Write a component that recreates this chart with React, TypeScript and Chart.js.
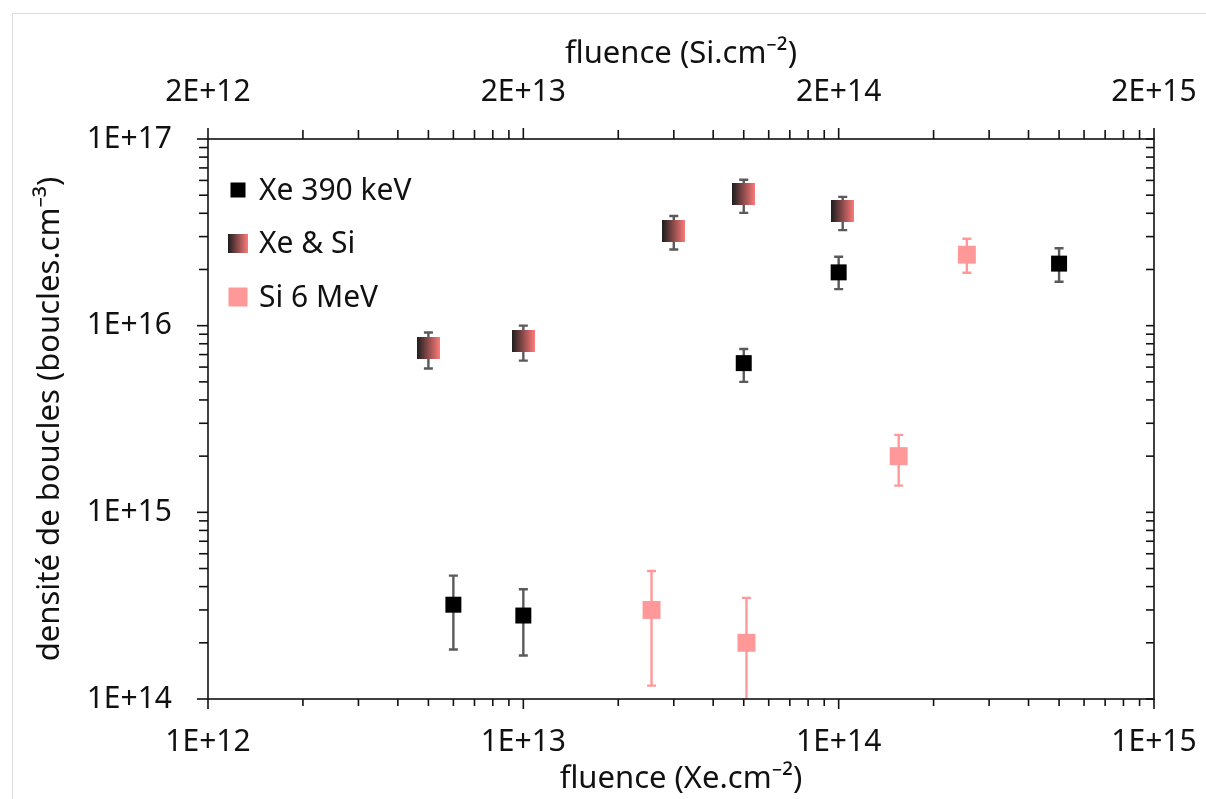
import React, { useEffect, useRef } from "react";
import { Chart, registerables } from "chart.js";

Chart.register(...registerables);

// ---- data (fluence in ions/cm2, density in loops/cm3) ----
const xeFluence = [6e12, 1e13, 5e13, 1e14, 5e14];
const xeDensity = [3.2e14, 2.8e14, 6.3e15, 1.93e16, 2.15e16];
const xeLow = [1.84e14, 1.71e14, 5.0e15, 1.57e16, 1.72e16];
const xeHigh = [4.58e14, 3.87e14, 7.5e15, 2.34e16, 2.6e16];

const mixFluence = [5e12, 1e13, 3e13, 5e13, 1.03e14];
const mixDensity = [7.6e15, 8.3e15, 3.2e16, 5.1e16, 4.1e16];
const mixLow = [5.9e15, 6.5e15, 2.56e16, 4.02e16, 3.25e16];
const mixHigh = [9.2e15, 1.0e16, 3.87e16, 6.05e16, 4.9e16];

// Si 6 MeV plotted against the top axis (Si fluence)
const siFluence = [5.1e13, 1.02e14, 3.1e14, 5.1e14];
const siDensity = [3.0e14, 2.0e14, 2.0e15, 2.4e16];
const siLow = [1.18e14, 7e13, 1.39e15, 1.92e16];
const siHigh = [4.85e14, 3.48e14, 2.6e15, 2.92e16];

const seriesLabels = ["Xe 390 keV", "Xe & Si", "Si 6 MeV"];

const bottomMajor = [1e12, 1e13, 1e14, 1e15];
const bottomLabels = ["1E+12", "1E+13", "1E+14", "1E+15"];
const topMajor = [2e12, 2e13, 2e14, 2e15];
const topLabels = ["2E+12", "2E+13", "2E+14", "2E+15"];
const yMajor = [1e14, 1e15, 1e16, 1e17];
const yLabels = ["1E+14", "1E+15", "1E+16", "1E+17"];
const minorMultipliers = [2, 3, 4, 5, 6, 7, 8, 9];

const xTitle = "fluence (Xe.cm\u207B\u00B2)";
const x2Title = "fluence (Si.cm\u207B\u00B2)";
const yTitle = "densit\u00E9 de boucles (boucles.cm\u207B\u00B3)";

const FONT = "'Noto Sans', 'Open Sans', 'DejaVu Sans', sans-serif";

function buildTicks(majors: number[]) {
  const out: { value: number; major: boolean }[] = [];
  const max = majors[majors.length - 1];
  majors.forEach((m) => {
    out.push({ value: m, major: true });
    if (m < max) {
      minorMultipliers.forEach((k) => {
        const v = Number((m * k).toPrecision(10));
        if (v < max) out.push({ value: v, major: false });
      });
    }
  });
  return out;
}

function labelFor(majors: number[], labels: string[]) {
  return (value: number | string) => {
    const v = Number(value);
    for (let i = 0; i < majors.length; i++) {
      if (Math.abs(v / majors[i] - 1) < 1e-6) return labels[i];
    }
    return "";
  };
}

function zeroPad(s: any) {
  s.paddingLeft = 0;
  s.paddingRight = 0;
  s.paddingTop = 0;
  s.paddingBottom = 0;
}

export default function App() {
  const ref = useRef<HTMLCanvasElement>(null);

  useEffect(() => {
    if (!ref.current) return;

    const grad = document.createElement("canvas");
    grad.width = 23;
    grad.height = 22;
    const gctx = grad.getContext("2d")!;
    const lg = gctx.createLinearGradient(0, 0, 23, 0);
    lg.addColorStop(0, "#1e1e1e");
    lg.addColorStop(1, "#ff7b7b");
    gctx.fillStyle = lg;
    gctx.fillRect(0, 0, 23, 22);

    const errorSets = [
      { lo: xeLow, hi: xeHigh, color: "#5a5a5a" },
      { lo: mixLow, hi: mixHigh, color: "#5a5a5a" },
      { lo: siLow, hi: siHigh, color: "#ff9999" },
    ];

    const framePlugin = {
      id: "frame",
      beforeDraw(chart: any) {
        const ctx = chart.ctx;
        ctx.save();
        ctx.fillStyle = "#ffffff";
        ctx.fillRect(0, 0, chart.width, chart.height);
        ctx.strokeStyle = "#dcdcdc";
        ctx.lineWidth = 1;
        ctx.strokeRect(12.5, 13.5, chart.width + 50, chart.height + 50);
        ctx.restore();
      },
      beforeDatasetsDraw(chart: any) {
        const ctx = chart.ctx;
        const area = chart.chartArea;
        const yScale = chart.scales.y;
        ctx.save();
        ctx.beginPath();
        ctx.rect(area.left, area.top, area.right - area.left, area.bottom - area.top);
        ctx.clip();
        errorSets.forEach((es, di) => {
          const meta = chart.getDatasetMeta(di);
          ctx.strokeStyle = es.color;
          ctx.lineWidth = 2.4;
          meta.data.forEach((pt: any, i: number) => {
            const x = pt.x;
            const yl = yScale.getPixelForValue(es.lo[i]);
            const yh = yScale.getPixelForValue(es.hi[i]);
            ctx.beginPath();
            ctx.moveTo(x, yl);
            ctx.lineTo(x, yh);
            ctx.moveTo(x - 4.5, yl);
            ctx.lineTo(x + 4.5, yl);
            ctx.moveTo(x - 4.5, yh);
            ctx.lineTo(x + 4.5, yh);
            ctx.stroke();
          });
        });
        ctx.restore();
      },
      afterDraw(chart: any) {
        const ctx = chart.ctx;
        const a = chart.chartArea;
        ctx.save();
        ctx.strokeStyle = "#111111";
        ctx.lineWidth = 1.6;
        ctx.strokeRect(a.left, a.top, a.right - a.left, a.bottom - a.top);

        const drawH = (scale: any, y: number, dir: number, majLen: number, minLen: number) => {
          scale.ticks.forEach((t: any) => {
            const x = scale.getPixelForValue(t.value);
            const len = t.major ? majLen : minLen;
            ctx.beginPath();
            ctx.moveTo(x, y);
            ctx.lineTo(x, y + dir * len);
            ctx.stroke();
          });
        };
        const drawV = (scale: any, x: number, dir: number, majLen: number, minLen: number) => {
          scale.ticks.forEach((t: any) => {
            const y = scale.getPixelForValue(t.value);
            const len = t.major ? majLen : minLen;
            ctx.beginPath();
            ctx.moveTo(x, y);
            ctx.lineTo(x + dir * len, y);
            ctx.stroke();
          });
        };
        drawH(chart.scales.x, a.bottom, 1, 10, 7);
        drawH(chart.scales.x2, a.top, -1, 11, 9);
        drawV(chart.scales.y, a.left, -1, 11, 9);
        drawV(chart.scales.y2, a.right, -1, 8, 8);

        // legend
        ctx.font = `30px ${FONT}`;
        ctx.textBaseline = "middle";
        ctx.textAlign = "left";
        const lx = 238;
        const ys = [190, 243, 297];
        const ds = chart.data.datasets;
        ctx.fillStyle = "#000000";
        ctx.fillRect(lx - 7.5, ys[0] - 7.5, 15, 15);
        ctx.drawImage(grad, lx - 10, ys[1] - 9.5, 20, 19);
        ctx.fillStyle = "#ff9999";
        ctx.fillRect(lx - 9.5, ys[2] - 9.5, 19, 19);
        ctx.fillStyle = "#111111";
        ds.forEach((d: any, i: number) => {
          ctx.fillText(d.label, 259, ys[i] + 1);
        });
        ctx.restore();
      },
    };

    const titleFont = { family: FONT, size: 31 };
    const tickFont = { family: FONT, size: 30 };
    const noGrid = { display: false, drawTicks: false, tickLength: 0 };

    const chart = new Chart(ref.current, {
      type: "scatter",
      data: {
        datasets: [
          {
            label: seriesLabels[0],
            data: xeFluence.map((x, i) => ({ x, y: xeDensity[i] })),
            xAxisID: "x",
            yAxisID: "y",
            pointStyle: "rect",
            pointRadius: 11.3,
            pointHoverRadius: 11.3,
            backgroundColor: "#000000",
            borderColor: "#000000",
            borderWidth: 0,
          },
          {
            label: seriesLabels[1],
            data: mixFluence.map((x, i) => ({ x, y: mixDensity[i] })),
            xAxisID: "x",
            yAxisID: "y",
            pointStyle: grad as any,
            pointRadius: 11,
            pointHoverRadius: 11,
            backgroundColor: "#a04c4c",
            borderWidth: 0,
          },
          {
            label: seriesLabels[2],
            data: siFluence.map((x, i) => ({ x, y: siDensity[i] })),
            xAxisID: "x2",
            yAxisID: "y",
            pointStyle: "rect",
            pointRadius: 12.7,
            pointHoverRadius: 12.7,
            backgroundColor: "#ff9999",
            borderColor: "#ff9999",
            borderWidth: 0,
          },
        ],
      },
      options: {
        responsive: false,
        animation: false,
        devicePixelRatio: 1,
        layout: { padding: 0 },
        plugins: { legend: { display: false }, tooltip: { enabled: false } },
        scales: {
          x: {
            type: "logarithmic",
            position: "bottom",
            min: 1e12,
            max: 1e15,
            grid: noGrid,
            border: { display: false },
            afterBuildTicks: (s: any) => {
              s.ticks = buildTicks(bottomMajor);
            },
            afterFit: (s: any) => {
              s.height = 100;
              zeroPad(s);
            },
            ticks: {
              autoSkip: false,
              maxRotation: 0,
              minRotation: 0,
              padding: 25,
              color: "#111111",
              font: tickFont,
              callback: labelFor(bottomMajor, bottomLabels),
            },
            title: { display: true, text: xTitle, color: "#111111", font: titleFont, padding: { top: 0, bottom: 1 } },
          },
          x2: {
            type: "logarithmic",
            position: "top",
            min: 2e12,
            max: 2e15,
            grid: noGrid,
            border: { display: false },
            afterBuildTicks: (s: any) => {
              s.ticks = buildTicks(topMajor);
            },
            afterFit: (s: any) => {
              s.height = 139;
              zeroPad(s);
            },
            ticks: {
              autoSkip: false,
              maxRotation: 0,
              minRotation: 0,
              padding: 29,
              color: "#111111",
              font: tickFont,
              callback: labelFor(topMajor, topLabels),
            },
            title: { display: true, text: x2Title, color: "#111111", font: titleFont, padding: { top: 36, bottom: 0 } },
          },
          y: {
            type: "logarithmic",
            position: "left",
            min: 1e14,
            max: 1e17,
            grid: noGrid,
            border: { display: false },
            afterBuildTicks: (s: any) => {
              s.ticks = buildTicks(yMajor);
            },
            afterFit: (s: any) => {
              s.width = 208;
              zeroPad(s);
            },
            ticks: {
              autoSkip: false,
              padding: 36,
              color: "#111111",
              font: tickFont,
              callback: labelFor(yMajor, yLabels),
            },
            title: { display: true, text: yTitle, color: "#111111", font: titleFont, padding: { top: 32, bottom: 0 } },
          },
          y2: {
            type: "logarithmic",
            position: "right",
            min: 1e14,
            max: 1e17,
            grid: noGrid,
            border: { display: false },
            afterBuildTicks: (s: any) => {
              s.ticks = buildTicks(yMajor);
            },
            afterFit: (s: any) => {
              s.width = 52;
              zeroPad(s);
            },
            ticks: { display: false },
          },
        },
      },
      plugins: [framePlugin],
    } as any);

    return () => chart.destroy();
  }, []);

  return (
    <div style={{ position: "fixed", left: 0, top: 0, width: 1206, height: 799, background: "#fff" }}>
      <canvas ref={ref} width={1206} height={799} style={{ display: "block" }} />
    </div>
  );
}
